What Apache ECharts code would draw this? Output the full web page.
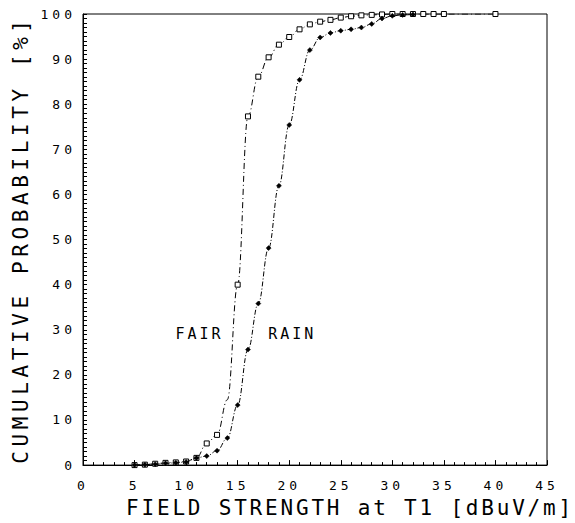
<!DOCTYPE html>
<html>
<head>
<meta charset="utf-8">
<script src="https://cdn.jsdelivr.net/npm/echarts@6/dist/echarts.min.js"></script>
<style>
html,body{margin:0;padding:0;background:#fff;}
#chart{width:575px;height:523px;}
</style>
</head>
<body>
<div id="chart"></div>
<script>
// ---- data ----
const fairX = [5,6,7,8,9,10,11,12,13,14,15,16,17,18,19,20,21,22,23,24,25,26,27,28,29,30,31,32,33,34,35,40];
const fairY = [0,0.1,0.3,0.5,0.6,0.8,1.6,4.8,6.7,14.5,40,77.3,86.1,90.4,93.2,94.9,96.6,97.7,98.3,98.7,99.2,99.5,99.7,99.8,99.9,100,100,100,100,100,100,100];
const fairNoMarkerAt = [14];
const rainX = [5,6,7,8,9,10,11,12,13,14,15,16,17,18,19,20,21,22,23,24,25,26,27,28,29,30,31,32];
const rainY = [0,0.1,0.2,0.4,0.5,0.7,1.6,2.0,3.2,6.0,13.3,25.6,35.8,48.1,61.9,75.4,85.4,92.0,94.8,95.8,96.3,96.6,97.0,97.8,99.0,99.6,99.8,99.9];
const xTickLabels = ['0','5','10','15','20','25','30','35','40','45'];
const yTickLabels = ['0','10','20','30','40','50','60','70','80','90','100'];
const xName = 'FIELD STRENGTH at T1 [dBuV/m]';
const yName = 'CUMULATIVE PROBABILITY [%]';
const fairLabel = 'FAIR';
const rainLabel = 'RAIN';
const fairLabelAt = [11.3, 29];
const rainLabelAt = [20.3, 29];

const FONT = '"DejaVu Sans Mono", monospace';

const fairData = fairX.map((x, i) => {
  const item = { value: [x, fairY[i]] };
  if (fairNoMarkerAt.indexOf(x) >= 0) item.symbolSize = 0;
  return item;
});
const rainData = rainX.map((x, i) => [x, rainY[i]]);

const chart = echarts.init(document.getElementById('chart'), null, { renderer: 'svg' });

const option = {
  animation: false,
  backgroundColor: '#fff',
  grid: { left: 83, right: 28, top: 14, bottom: 53, show: true, borderColor: '#000', borderWidth: 1, backgroundColor: 'transparent' },
  xAxis: {
    type: 'value', min: 0, max: 45, interval: 5,
    name: xName, nameLocation: 'middle', nameGap: 30,
    nameTextStyle: { fontFamily: FONT, fontSize: 21, color: '#000', padding: [0, 0, 0, 70] },
    axisLine: { show: true, lineStyle: { color: '#000', width: 1 } },
    axisTick: { show: true, inside: true, length: 5, lineStyle: { color: '#000' } },
    minorTick: { show: true, splitNumber: 5, length: 3, lineStyle: { color: '#000' } },
    splitLine: { show: false },
    axisLabel: { fontFamily: FONT, fontSize: 13, color: '#000', margin: 14,
      formatter: v => xTickLabels[Math.round(v / 5)] },
  },
  yAxis: {
    type: 'value', min: 0, max: 100, interval: 10,
    name: yName, nameLocation: 'middle', nameGap: 52,
    nameTextStyle: { fontFamily: FONT, fontSize: 21, color: '#000' },
    axisLine: { show: true, lineStyle: { color: '#000', width: 1 } },
    axisTick: { show: true, inside: true, length: 4, lineStyle: { color: '#000' } },
    minorTick: { show: true, splitNumber: 10, length: 4, lineStyle: { color: '#000' } },
    splitLine: { show: false },
    axisLabel: { fontFamily: FONT, fontSize: 13, color: '#000', margin: 7,
      formatter: v => yTickLabels[Math.round(v / 10)] },
  },
  series: [
    {
      name: fairLabel, type: 'line', data: fairData,
      smooth: 0.4, smoothMonotone: 'x',
      symbol: 'rect', symbolSize: 5,
      itemStyle: { color: '#fff', borderColor: '#000', borderWidth: 1 },
      lineStyle: { color: '#000', width: 1, type: [6, 3, 1, 3] },
      z: 3
    },
    {
      name: rainLabel, type: 'line', data: rainData,
      smooth: 0.4, smoothMonotone: 'x',
      symbol: 'diamond', symbolSize: 5,
      itemStyle: { color: '#000', borderColor: '#000', borderWidth: 0.5 },
      lineStyle: { color: '#000', width: 1, type: [5, 2, 1, 2] },
      z: 4
    }
  ]
};
chart.setOption(option);

const pf = chart.convertToPixel({ gridIndex: 0 }, fairLabelAt);
const pr = chart.convertToPixel({ gridIndex: 0 }, rainLabelAt);
chart.setOption({
  graphic: [
    { type: 'text', x: pf[0], y: pf[1], style: { text: fairLabel, font: '15px ' + FONT, fill: '#000', align: 'center', verticalAlign: 'middle' } },
    { type: 'text', x: pr[0], y: pr[1], style: { text: rainLabel, font: '15px ' + FONT, fill: '#000', align: 'center', verticalAlign: 'middle' } }
  ]
});

function spacing() {
  const texts = document.querySelectorAll('#chart text');
  texts.forEach(t => {
    const s = t.textContent;
    let ls = 0;
    if (s === xName) ls = 2.8;
    else if (s === yName) ls = 4.6;
    else if (s === fairLabel || s === rainLabel) ls = 3;
    else if (/^\d+$/.test(s)) ls = 4;
    if (ls) t.setAttribute('letter-spacing', ls);
  });
}
spacing();
</script>
</body>
</html>
